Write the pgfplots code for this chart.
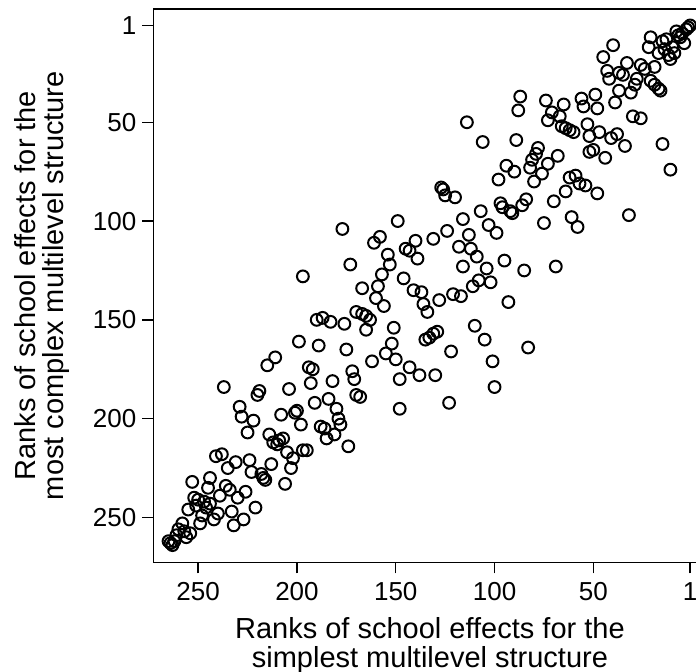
\documentclass[border=0pt]{standalone}
\usepackage{fontspec}
\setmainfont{Liberation Sans}
\usepackage{pgfplots}
\pgfplotsset{compat=1.18}
\begin{document}
\begin{tikzpicture}
\begin{axis}[
    at={(0,0)}, anchor=south west,
    scale only axis, width=276.64pt, height=276.64pt,
    x dir=reverse, y dir=reverse,
    xmin=-7.3, xmax=272.7, ymin=-7.3, ymax=272.7,
    xtick={1,50,100,150,200,250}, ytick={1,50,100,150,200,250},
    tick align=outside, major tick length=5.5pt,
    tick pos=left,
    axis line style={line width=0.75pt, black},
    tick style={line width=0.75pt, black},
    /pgf/number format/assume math mode=true,
    ticklabel style={font=\fontsize{13}{15}\selectfont, inner sep=0pt},
    xticklabel style={anchor=north, yshift=-4.2pt},
    yticklabel style={anchor=east, xshift=-2.8pt},
    xlabel={Ranks of school effects for the\\simplest multilevel structure},
    ylabel={Ranks of school effects for the\\most complex multilevel structure},
    xlabel style={at={(axis description cs:0.5,-0.0994)}, anchor=north, inner sep=0pt, align=center, font=\fontsize{14.5}{14.15}\selectfont},
    ylabel style={at={(axis description cs:-0.2518,0.5)}, anchor=north, inner sep=0pt, align=center, font=\fontsize{14.5}{14.15}\selectfont},
]
% x: rank under the simplest structure, y: rank under the most complex one
\addplot[only marks, mark=o, mark size=2.95pt, mark options={line width=1pt, black}] table {
x y
40 11
45 17
43 24
42 28
33 20
37 25
35 26
26 21
24 23
19 22
28 28
29 31
31 35
21 29
19 31
17 33
16 34
37 34
39 40
56 38
55 42
49 36
48 43
30 47
26 48
21 7
22 12
15 9
14 13
10 12
9 15
11 18
17 15
8 4
5 5
2 2
1 1
6 7
4 10
65 41
67 47
66 52
64 53
62 54
60 55
53 51
52 57
47 55
41 58
38 56
3 3
7 6
12 16
13 8
74 39
71 45
73 49
87 37
88 44
114 50
106 60
89 59
15 61
11 74
34 62
52 65
50 64
44 68
78 63
79 66
81 69
82 73
73 71
68 67
76 76
80 80
94 72
90 75
98 79
62 78
59 77
57 81
54 82
48 86
64 85
70 90
32 97
75 101
61 98
58 103
127 83
126 84
125 87
120 88
131 109
124 105
116 99
113 107
118 113
112 114
109 118
116 123
107 95
103 102
99 106
97 91
96 93
92 95
91 96
86 92
84 89
95 120
104 124
85 125
69 123
177 104
149 100
161 111
158 108
173 122
154 117
153 122
145 114
143 115
140 110
139 119
197 128
157 127
146 129
141 135
167 134
159 133
160 139
156 143
170 146
167 147
165 148
163 150
165 155
190 150
187 149
183 151
176 152
199 161
189 163
175 165
151 154
152 162
155 167
150 170
162 171
143 174
148 180
138 178
211 169
215 173
194 174
192 175
193 182
182 181
172 176
171 180
170 188
168 189
237 184
220 188
219 186
204 185
191 192
184 190
180 195
179 200
178 203
181 208
188 204
186 205
185 210
174 214
137 136
136 142
134 146
128 140
121 137
117 138
111 133
108 130
102 131
93 141
110 153
105 160
83 164
122 166
101 171
135 160
133 159
131 157
129 156
130 178
100 184
123 192
148 195
229 194
228 199
222 201
225 207
208 198
201 197
200 196
198 203
214 208
212 212
210 213
209 211
207 210
205 217
202 220
197 216
195 216
203 225
213 223
241 219
238 218
235 225
231 222
224 221
223 227
218 228
217 230
216 231
206 233
253 232
244 230
245 235
236 234
234 236
239 239
226 237
230 240
252 240
250 241
247 242
251 244
246 245
244 243
240 248
255 246
248 249
233 247
227 251
221 245
232 254
249 253
242 251
258 253
260 256
257 257
254 258
256 260
261 259
262 262
264 263
263 264
265 262
};
\end{axis}
\pgfresetboundingbox
\path[use as bounding box] (-76.65pt,-54.35pt) rectangle (271.35pt,281.15pt);
\end{tikzpicture}
\end{document}
